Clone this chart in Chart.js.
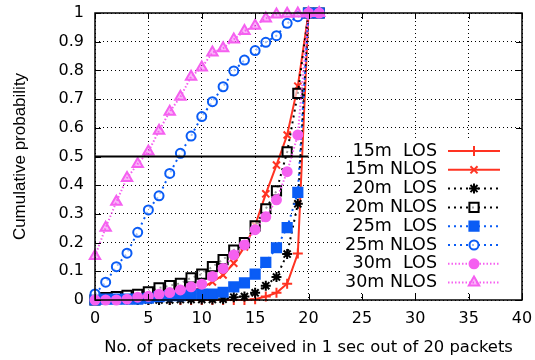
<!DOCTYPE html>
<html>
<head>
<meta charset="utf-8">
<script src="https://cdn.jsdelivr.net/npm/chart.js@4/dist/chart.umd.min.js"></script>
<style>
  html, body { margin: 0; padding: 0; background: #fff; }
  #wrap { width: 535px; height: 360px; }
</style>
</head>
<body>
<div id="wrap"><canvas id="chart"></canvas></div>
<script>
// packets received (x axis)
var packets = [0, 1, 2, 3, 4, 5, 6, 7, 8, 9, 10, 11, 12, 13, 14, 15, 16, 17, 18, 19, 20, 21];

// cumulative probability per setup
var los15  = [0, 0, 0, 0, 0, 0, 0, 0, 0, 0, 0, 0, 0, 0, 0, 0.003, 0.012, 0.025, 0.057, 0.162, 1, 1];
var nlos15 = [0, 0, 0, 0.003, 0.005, 0.008, 0.012, 0.018, 0.028, 0.035, 0.042, 0.063, 0.087, 0.128, 0.185, 0.26, 0.37, 0.47, 0.575, 0.745, 1, 1];
var los20  = [0, 0, 0, 0, 0, 0, 0, 0, 0.002, 0.002, 0.002, 0.002, 0.003, 0.01, 0.012, 0.025, 0.05, 0.08, 0.16, 0.335, 1, 1];
var nlos20 = [0, 0.008, 0.012, 0.016, 0.02, 0.028, 0.042, 0.05, 0.058, 0.077, 0.09, 0.116, 0.141, 0.174, 0.2, 0.258, 0.318, 0.38, 0.516, 0.72, 1, 1];
var los25  = [0, 0.003, 0.003, 0.003, 0.003, 0.006, 0.012, 0.015, 0.015, 0.02, 0.021, 0.021, 0.027, 0.046, 0.06, 0.09, 0.131, 0.182, 0.252, 0.375, 1, 1];
var nlos25 = [0.021, 0.062, 0.116, 0.163, 0.236, 0.314, 0.363, 0.441, 0.511, 0.571, 0.639, 0.691, 0.743, 0.798, 0.836, 0.869, 0.898, 0.921, 0.964, 0.987, 1, 1];
var los30  = [0, 0, 0, 0.003, 0.01, 0.013, 0.02, 0.026, 0.035, 0.046, 0.055, 0.082, 0.11, 0.157, 0.192, 0.245, 0.29, 0.349, 0.447, 0.575, 1, 1];
var nlos30 = [0.153, 0.252, 0.342, 0.425, 0.474, 0.517, 0.59, 0.656, 0.708, 0.778, 0.81, 0.862, 0.877, 0.908, 0.937, 0.956, 0.981, 0.995, 0.997, 0.998, 1, 1];

var seriesLabels = ["15m  LOS", "15m NLOS", "20m  LOS", "20m NLOS", "25m  LOS", "25m NLOS", "30m  LOS", "30m NLOS"];

// the 0.5 reference line
var halfLineX = [0, 20];
var halfLineY = 0.5;

var xTicks = [0, 40, 5];   // min, max, step
var yTicks = [0, 1, 0.1];

var RED = '#ff3322', BLUE = '#0a5cf5', PINK = '#f560f0';
var FONT = 'DejaVu Sans, sans-serif';       // wide font for horizontal text
var VFONT = 'Liberation Sans, Arial, sans-serif'; // y title

function pts(ys) { //pair x with y
    return packets.map(function (x, i) { return { x: x, y: ys[i] }; });
}

// style per series: color, dash, marker, radius, fill
var styles = [
    { c: RED, dash: [], p: 'cross', r: 5, fill: RED },
    { c: RED, dash: [], p: 'crossRot', r: 5, fill: RED },
    { c: '#000', dash: [2, 4], p: 'star', r: 5, fill: '#000' },
    { c: '#000', dash: [2, 4], p: 'rect', r: 6.5, fill: 'rgba(255,255,255,0.6)' },
    { c: BLUE, dash: [2, 4], p: 'rect', r: 6.5, fill: BLUE },
    { c: BLUE, dash: [2, 4], p: 'circle', r: 4.5, fill: 'rgba(255,255,255,0.6)' },
    { c: PINK, dash: [1.5, 2], p: 'circle', r: 4.5, fill: PINK },
    { c: PINK, dash: [1.5, 2], p: 'triangle', r: 6, fill: 'rgba(245,96,240,0.45)' }
];
var allData = [los15, nlos15, los20, nlos20, los25, nlos25, los30, nlos30];

var datasets = [];
for (var i = 0; i < allData.length; i++) {
    var s = styles[i];
    datasets.push({
        label: seriesLabels[i],
        data: pts(allData[i]),
        borderColor: s.c,
        backgroundColor: s.fill,
        borderWidth: 2,
        borderDash: s.dash,
        pointStyle: s.p,
        pointRadius: s.r,
        pointBorderWidth: 2,
        pointBorderColor: s.c,
        pointBackgroundColor: s.fill,
        tension: 0,
        clip: 10,
        order: 10 - i
    });
}
// black line at 0.5
datasets.push({
    label: 'half',
    data: halfLineX.map(function (x) { return { x: x, y: halfLineY }; }),
    borderColor: '#000',
    borderWidth: 2,
    pointRadius: 0,
    order: 0
});

// gnuplot style frame, inner ticks and key
var framePlugin = {
    id: 'frame',
    afterDatasetsDraw: function (chart) {
        var ctx = chart.ctx, a = chart.chartArea;
        var xs = chart.scales.x, ys = chart.scales.y;
        ctx.save();
        ctx.setLineDash([]);
        ctx.strokeStyle = '#000';
        ctx.lineWidth = 1;
        // inner ticks
        ctx.beginPath();
        for (var v = xTicks[0]; v <= xTicks[1]; v += xTicks[2]) {
            var px = Math.round(xs.getPixelForValue(v)) + 0.5;
            ctx.moveTo(px, a.bottom); ctx.lineTo(px, a.bottom - 6);
            ctx.moveTo(px, a.top); ctx.lineTo(px, a.top + 6);
        }
        for (var k = 0; k <= 10; k++) {
            var py = Math.round(ys.getPixelForValue(k * yTicks[2])) + 0.5;
            ctx.moveTo(a.left, py); ctx.lineTo(a.left + 6, py);
            ctx.moveTo(a.right, py); ctx.lineTo(a.right - 6, py);
        }
        ctx.stroke();

        // key box
        ctx.fillStyle = '#fff';
        ctx.fillRect(343, 139, a.right - 344, 153);
        ctx.font = '17.5px ' + FONT;
        ctx.textAlign = 'right';
        ctx.textBaseline = 'middle';
        for (var i = 0; i < styles.length; i++) {
            var s = styles[i];
            var yy = 151 + i * 18.8;
            ctx.fillStyle = '#000';
            ctx.fillText(seriesLabels[i], 437, yy);
            ctx.strokeStyle = s.c;
            ctx.lineWidth = 2;
            ctx.setLineDash(s.dash);
            ctx.beginPath();
            ctx.moveTo(448, yy); ctx.lineTo(500, yy);
            ctx.stroke();
            ctx.setLineDash([]);
            ctx.fillStyle = s.fill;
            ctx.strokeStyle = s.c;
            Chart.helpers.drawPoint(ctx, { pointStyle: s.p, radius: s.r, rotation: 0, borderWidth: 2 }, 474, yy);
        }

        // border
        ctx.strokeStyle = '#000';
        ctx.lineWidth = 1.5;
        ctx.strokeRect(a.left, a.top, a.right - a.left, a.bottom - a.top);
        ctx.restore();
    }
};

var ctx = document.getElementById('chart').getContext('2d');
window.myChart = new Chart(ctx, {
    type: 'line',
    data: { datasets: datasets },
    options: {
        responsive: true,
        maintainAspectRatio: false,
        animation: false,
        layout: { padding: { top: 13, right: 13, left: 0, bottom: 0 } },
        plugins: { legend: { display: false }, tooltip: { enabled: false } },
        scales: {
            x: {
                type: 'linear',
                min: xTicks[0], max: xTicks[1],
                ticks: { stepSize: xTicks[2], color: '#000', font: { family: FONT, size: 16 }, padding: 9, maxRotation: 0 },
                grid: { color: '#000', lineWidth: 1, drawTicks: false },
                border: { display: false, dash: [1, 3] },
                title: { display: true, text: 'No. of packets received in 1 sec out of 20 packets', color: '#000', font: { family: FONT, size: 16.4 }, padding: { top: 0, bottom: 2 } },
                afterFit: function (s) { s.height = 60; s.paddingLeft = 0; s.paddingRight = 0; }
            },
            y: {
                type: 'linear',
                min: yTicks[0], max: yTicks[1],
                ticks: {
                    stepSize: yTicks[2], color: '#000', font: { family: FONT, size: 16 }, padding: 11,
                    callback: function (v) { return String(Number(v.toFixed(1))); }
                },
                grid: { color: '#000', lineWidth: 1, drawTicks: false },
                border: { display: false, dash: [1, 3] },
                title: { display: true, text: 'Cumulative probability', color: '#000', font: { family: VFONT, size: 17 }, padding: { top: 10, bottom: 0 } },
                afterFit: function (s) { s.width = 95; s.paddingTop = 0; s.paddingBottom = 0; }
            }
        }
    },
    plugins: [framePlugin]
});
</script>
</body>
</html>
